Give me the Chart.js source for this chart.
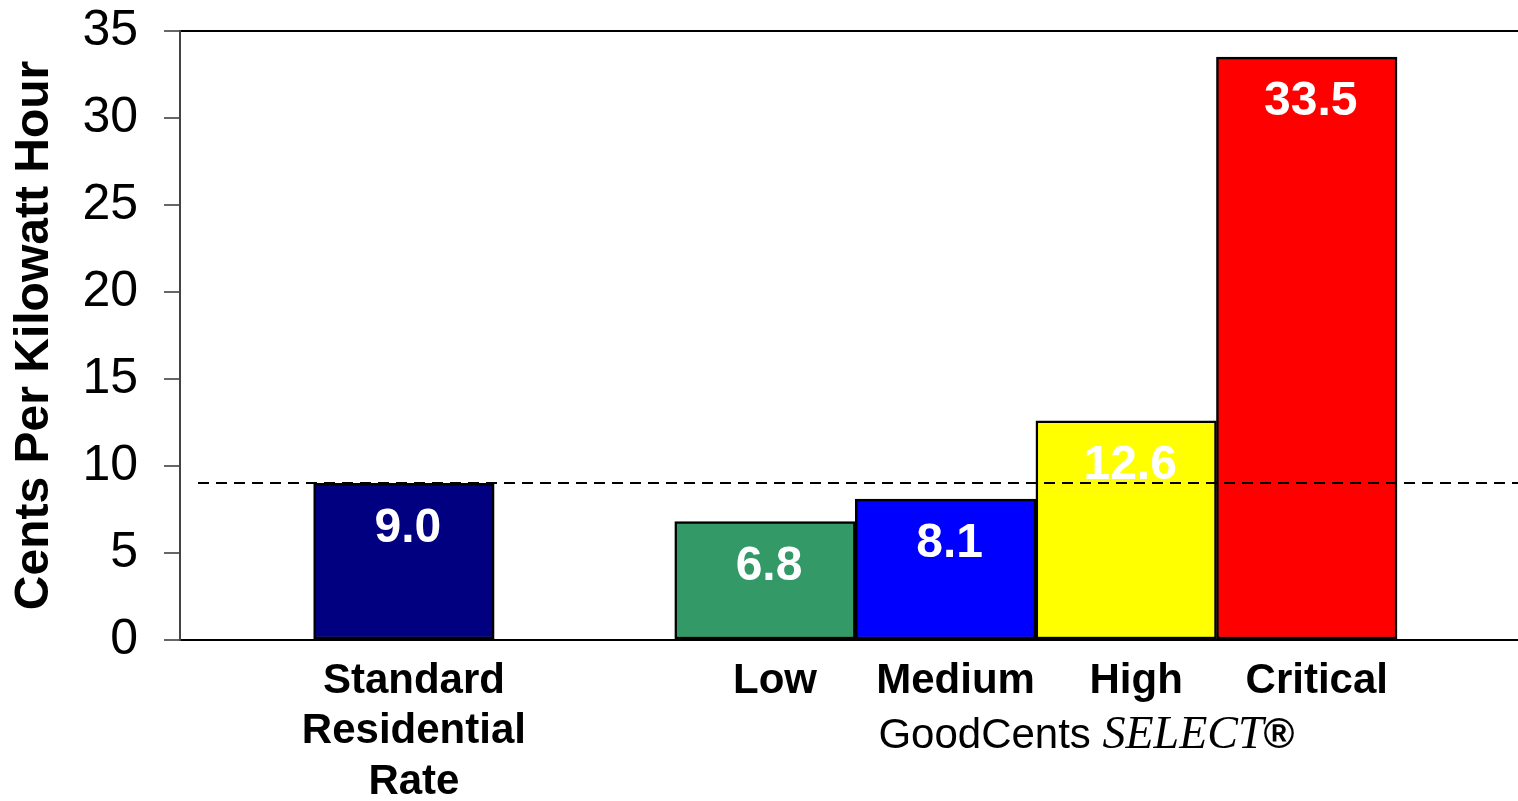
<!DOCTYPE html>
<html>
<head>
<meta charset="utf-8">
<title>GoodCents SELECT rates</title>
<script src="https://cdn.jsdelivr.net/npm/chart.js@4/dist/chart.umd.min.js"></script>
<style>
    html, body { margin: 0; padding: 0; background: #fff; }
    #wrap { width: 1518px; height: 801px; position: relative; }
</style>
</head>
<body>
<div id="wrap"><canvas id="rateChart"></canvas></div>
<script>
// Chart data
const rateLabels = [['Standard', 'Residential', 'Rate'], 'Low', 'Medium', 'High', 'Critical'];
const slotIndex = [1, 3, 4, 5, 6];          // category slot of each bar (slot 2 left empty)
const centsPerKwh = [9.0, 6.8, 8.1, 12.6, 33.5];
const yTickValues = [0, 5, 10, 15, 20, 25, 30, 35];
const barColors = ['#000080', '#339966', '#0000FF', '#FFFF00', '#FF0000'];
const groupTitle = ['GoodCents ', 'SELECT', '®'];

document.addEventListener('DOMContentLoaded', () => {

    const ctx = document.getElementById('rateChart').getContext('2d');

    // dashed reference line at the standard rate + white value labels + group caption
    const overlayPlugin = {
        id: 'overlay',
        afterDatasetsDraw(chart) {
            const c = chart.ctx;
            const area = chart.chartArea;
            const xs = chart.scales.x;
            const ys = chart.scales.y;

            // 1. dashed line at standard rate
            const yRef = Math.round(ys.getPixelForValue(centsPerKwh[0]));
            c.save();
            c.strokeStyle = '#000';
            c.lineWidth = 2;
            c.setLineDash([11, 7]);
            c.beginPath();
            c.moveTo(area.left + 18, yRef);
            c.lineTo(area.right, yRef);
            c.stroke();
            c.restore();

            // 2. value labels
            const meta = chart.getDatasetMeta(0);
            c.save();
            c.fillStyle = '#fff';
            c.font = 'bold 48px "Liberation Sans", Arial, sans-serif';
            c.textAlign = 'center';
            c.textBaseline = 'middle';
            meta.data.forEach((bar, i) => {
                c.fillText(centsPerKwh[i].toFixed(1), bar.x + 4, bar.y + 45);
            });
            c.restore();

            // 3. "GoodCents SELECT®" under the tier labels
            c.save();
            c.fillStyle = '#000';
            c.textBaseline = 'alphabetic';
            const fonts = [
                '42px "Liberation Sans", Arial, sans-serif',
                'italic 46px "Liberation Serif", "Times New Roman", serif',
                'bold 42px "Liberation Sans", Arial, sans-serif'
            ];
            const widths = groupTitle.map((t, i) => { c.font = fonts[i]; return c.measureText(t).width; });
            const total = widths.reduce((a, b) => a + b, 0);
            let x = xs.getPixelForValue(4.78) - total / 2;
            const y = area.bottom + 108;
            groupTitle.forEach((t, i) => {
                c.font = fonts[i];
                c.textAlign = 'left';
                c.fillText(t, x, y);
                x += widths[i];
            });
            c.restore();
        }
    };

    const config = {
        type: 'bar',
        data: {
            datasets: [{
                data: slotIndex.map((s, i) => ({ x: s, y: centsPerKwh[i] })),
                backgroundColor: barColors,
                borderColor: '#000',
                borderWidth: 2.5,
                borderSkipped: false,
                barPercentage: 1,
                categoryPercentage: 1
            }]
        },
        options: {
            responsive: true,
            maintainAspectRatio: false,
            animation: false,
            layout: { padding: 0 },
            plugins: {
                legend: { display: false },
                tooltip: { enabled: false }
            },
            scales: {
                x: {
                    type: 'linear',
                    offset: false,
                    min: -0.24,
                    max: 7.17,
                    grid: { display: false, drawTicks: false },
                    border: { display: false },
                    afterBuildTicks: axis => { axis.ticks = slotIndex.map(v => ({ value: v })); },
                    afterFit: scale => { scale.height = 161; },
                    ticks: {
                        autoSkip: false,
                        maxRotation: 0,
                        padding: 16,
                        labelOffset: 10,
                        color: '#000',
                        font: { family: '"Liberation Sans", Arial, sans-serif', size: 42, weight: 'bold', lineHeight: 1.2 },
                        callback: v => rateLabels[slotIndex.indexOf(v)]
                    }
                },
                y: {
                    min: 0,
                    max: 35,
                    afterBuildTicks: axis => { axis.ticks = yTickValues.map(v => ({ value: v })); },
                    afterFit: scale => {
                        scale.width = 180;
                        scale.paddingTop = 31;
                        scale.paddingBottom = 0;
                    },
                    border: { display: true, color: '#444', width: 2 },
                    grid: {
                        lineWidth: 2,
                        tickLength: 16,
                        tickColor: '#666',
                        color: c => (c.tick && (c.tick.value === 0 || c.tick.value === 35)) ? '#000' : 'rgba(0,0,0,0)'
                    },
                    ticks: {
                        padding: 26,
                        color: '#000',
                        font: { family: '"Liberation Sans", Arial, sans-serif', size: 50, lineHeight: 1.1 }
                    },
                    title: {
                        display: true,
                        text: 'Cents Per Kilowatt Hour',
                        color: '#000',
                        padding: { top: 6, bottom: 20 },
                        font: { family: '"Liberation Sans", Arial, sans-serif', size: 48, weight: 'bold', lineHeight: 1.2 }
                    }
                }
            }
        },
        plugins: [overlayPlugin]
    };

    window.rateChart = new Chart(ctx, config);
});
</script>
</body>
</html>
